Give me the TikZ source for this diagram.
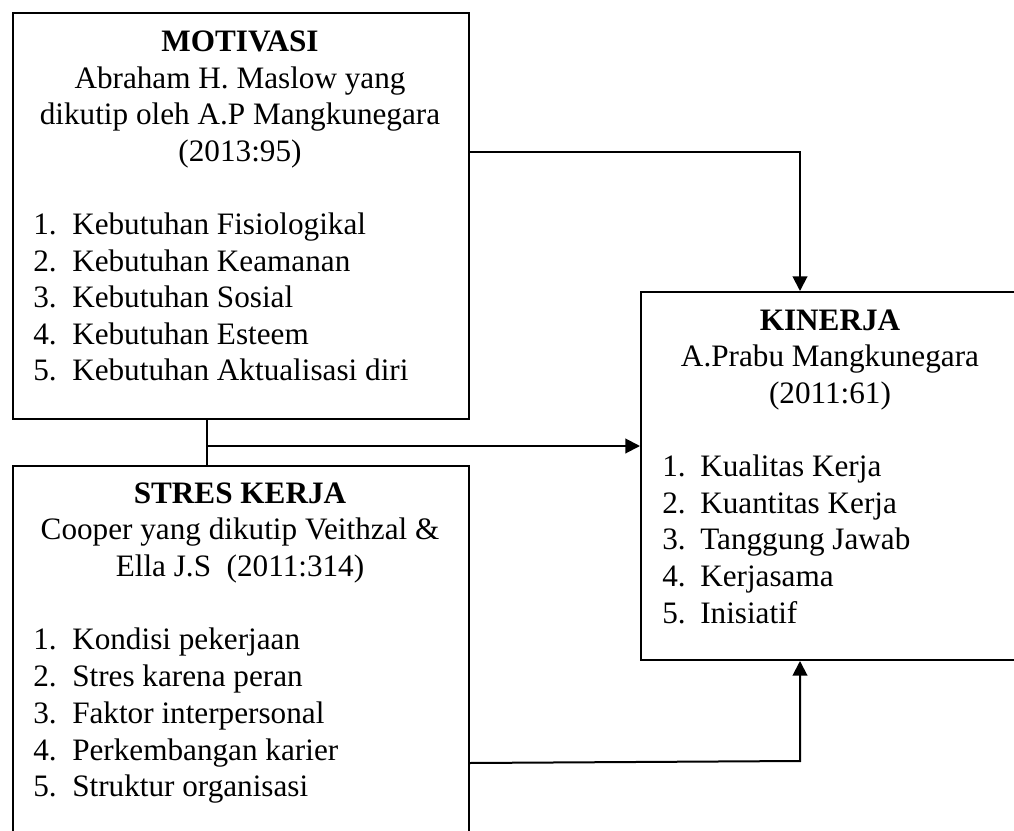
\documentclass[tikz,border=0pt]{standalone}
\usepackage{fontspec}
\setmainfont{Liberation Serif}
\usetikzlibrary{arrows.meta}

\begin{document}
\begin{tikzpicture}[x=0.75pt, y=-0.75pt,
  box/.style={draw, line width=1.5pt, rectangle, inner sep=0pt, anchor=north west},
  ttl/.style={anchor=base, inner sep=0pt, font=\fontsize{23.4}{27.45}\selectfont\bfseries},
  txt/.style={anchor=base, inner sep=0pt, font=\fontsize{23.4}{27.45}\selectfont},
  itm/.style={anchor=base west, inner sep=0pt, font=\fontsize{23.4}{27.45}\selectfont},
  arr/.style={line width=1.5pt, -{Triangle[length=11pt, width=11pt]}}]
  \clip (0,0) rectangle (1014,831);
  % kotak
  \node[box, minimum width=342pt, minimum height=304.5pt] (m) at (12,12) {};
  \node[box, minimum width=342pt, minimum height=315pt] (s) at (12,465) {};
  \node[box, minimum width=285pt, minimum height=276pt] (k) at (640,291) {};
  % motivasi
  \node[ttl] (mt) at (240,52) {MOTIVASI};
  \node[txt] (ma) at (240,88.5) {Abraham H. Maslow yang};
  \node[txt] (mb) at (240,125) {dikutip oleh A.P Mangkunegara};
  \node[txt] (mc) at (240,161.5) {(2013:95)};
  \foreach \t [count=\i] in {Kebutuhan Fisiologikal, Kebutuhan Keamanan, Kebutuhan Sosial, Kebutuhan Esteem, Kebutuhan Aktualisasi diri} {
    \node[itm] (mn\i) at (33,198+36.5*\i) {\i.};
    \node[itm] (mi\i) at (72,198+36.5*\i) {\t};
  }
  % stres kerja
  \node[ttl] (st) at (240,503) {STRES KERJA};
  \node[txt] (sa) at (240,539.5) {Cooper yang dikutip Veithzal \&};
  \node[txt] (sb) at (240,576) {Ella J.S\ \ (2011:314)};
  \foreach \t [count=\i] in {Kondisi pekerjaan, Stres karena peran, Faktor interpersonal, Perkembangan karier, Struktur organisasi} {
    \node[itm] (sn\i) at (33,613+36.75*\i) {\i.};
    \node[itm] (si\i) at (72,613+36.75*\i) {\t};
  }
  % kinerja
  \node[ttl] (kt) at (830,330) {KINERJA};
  \node[txt] (ka) at (830,366.5) {A.Prabu Mangkunegara};
  \node[txt] (kb) at (830,403) {(2011:61)};
  \foreach \t [count=\i] in {Kualitas Kerja, Kuantitas Kerja, Tanggung Jawab, Kerjasama, Inisiatif} {
    \node[itm] (kn\i) at (662,440+36.6*\i) {\i.};
    \node[itm] (ki\i) at (700,440+36.6*\i) {\t};
  }
  % panah
  \coordinate (tm) at (800,152);
  \draw[arr] (tm -| m.east) -- (tm) -- (tm |- k.north);
  \coordinate (jn) at (207,446);
  \draw[line width=1.5pt] (jn |- m.south) -- (jn |- s.north);
  \draw[arr] (jn) -- (jn -| k.west);
  \coordinate (sr) at (0,763);
  \coordinate (tb) at (800,761);
  \draw[arr] (sr -| s.east) -- (tb) -- (tb |- k.south);
\end{tikzpicture}
\end{document}
